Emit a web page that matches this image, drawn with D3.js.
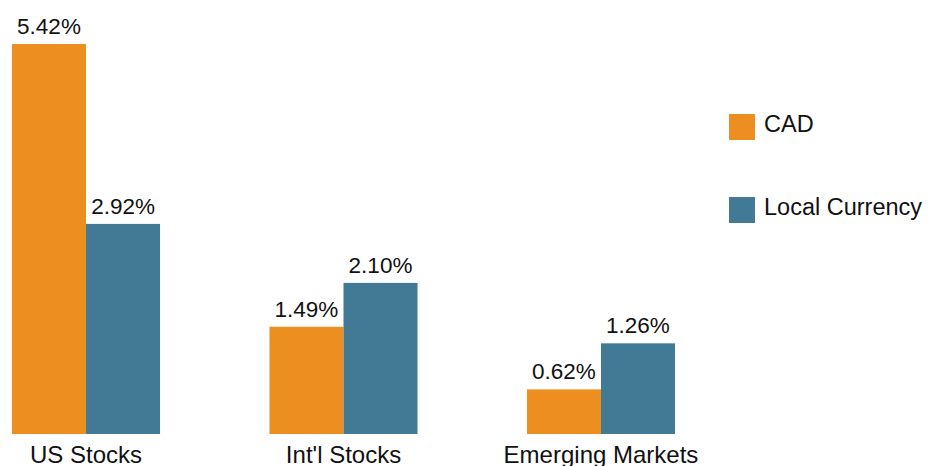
<!DOCTYPE html>
<html><head><meta charset="utf-8">
<script src="https://cdn.jsdelivr.net/npm/d3@7"></script>
<style>body{margin:0;background:#fff}svg{display:block}text{font-family:"Liberation Sans",Arial,sans-serif;fill:#111}</style>
</head><body><svg id="c" width="928" height="466"></svg>
<script>
const categories = ["US Stocks", "Int'l Stocks", "Emerging Markets"];
const seriesNames = ["CAD", "Local Currency"];
const cadValues = [5.42, 1.49, 0.62];
const localValues = [2.92, 2.10, 1.26];
const colors = ["#ED8F20", "#427A96"];

const svg = d3.select("#c");
const baseY = 434, topY = 44;
const x0 = d3.scaleBand().domain(categories).range([12, 675]).paddingInner(0.425).paddingOuter(0);
const x1 = d3.scaleBand().domain(seriesNames).range([0, x0.bandwidth()]).padding(0);
const y = d3.scaleLinear().domain([0, 5.42]).range([baseY, topY]);

const data = categories.map((c, i) => ({cat: c, vals: [
  {s: seriesNames[0], v: cadValues[i]}, {s: seriesNames[1], v: localValues[i]}]}));
const color = d3.scaleOrdinal().domain(seriesNames).range(colors);

const g = svg.selectAll("g.grp").data(data).join("g").attr("class", "grp")
  .attr("transform", d => `translate(${x0(d.cat)},0)`);
g.selectAll("rect").data(d => d.vals).join("rect")
  .attr("x", d => x1(d.s)).attr("width", x1.bandwidth())
  .attr("y", d => y(d.v)).attr("height", d => baseY - y(d.v))
  .attr("fill", d => color(d.s));
g.selectAll("text.val").data(d => d.vals).join("text").attr("class", "val")
  .attr("x", d => x1(d.s) + x1.bandwidth() / 2).attr("y", d => y(d.v) - 10)
  .attr("text-anchor", "middle").attr("font-size", 22.5)
  .text(d => d.v.toFixed(2) + "%");

const xAxis = svg.append("g").attr("transform", `translate(0,${baseY})`)
  .call(d3.axisBottom(x0).tickSize(0).tickPadding(12));
xAxis.select(".domain").remove();
xAxis.selectAll("text").attr("font-size", 24).attr("font-family", "Liberation Sans, Arial, sans-serif").attr("fill", "#111").attr("dy", "0.71em");

const leg = svg.append("g").selectAll("g").data(seriesNames).join("g")
  .attr("transform", (d, i) => `translate(729,${114 + i * 83})`);
leg.append("rect").attr("width", 26).attr("height", 26).attr("fill", d => color(d));
leg.append("text").attr("x", 35).attr("y", 18).attr("font-size", 23.5).text(d => d);
</script></body></html>
